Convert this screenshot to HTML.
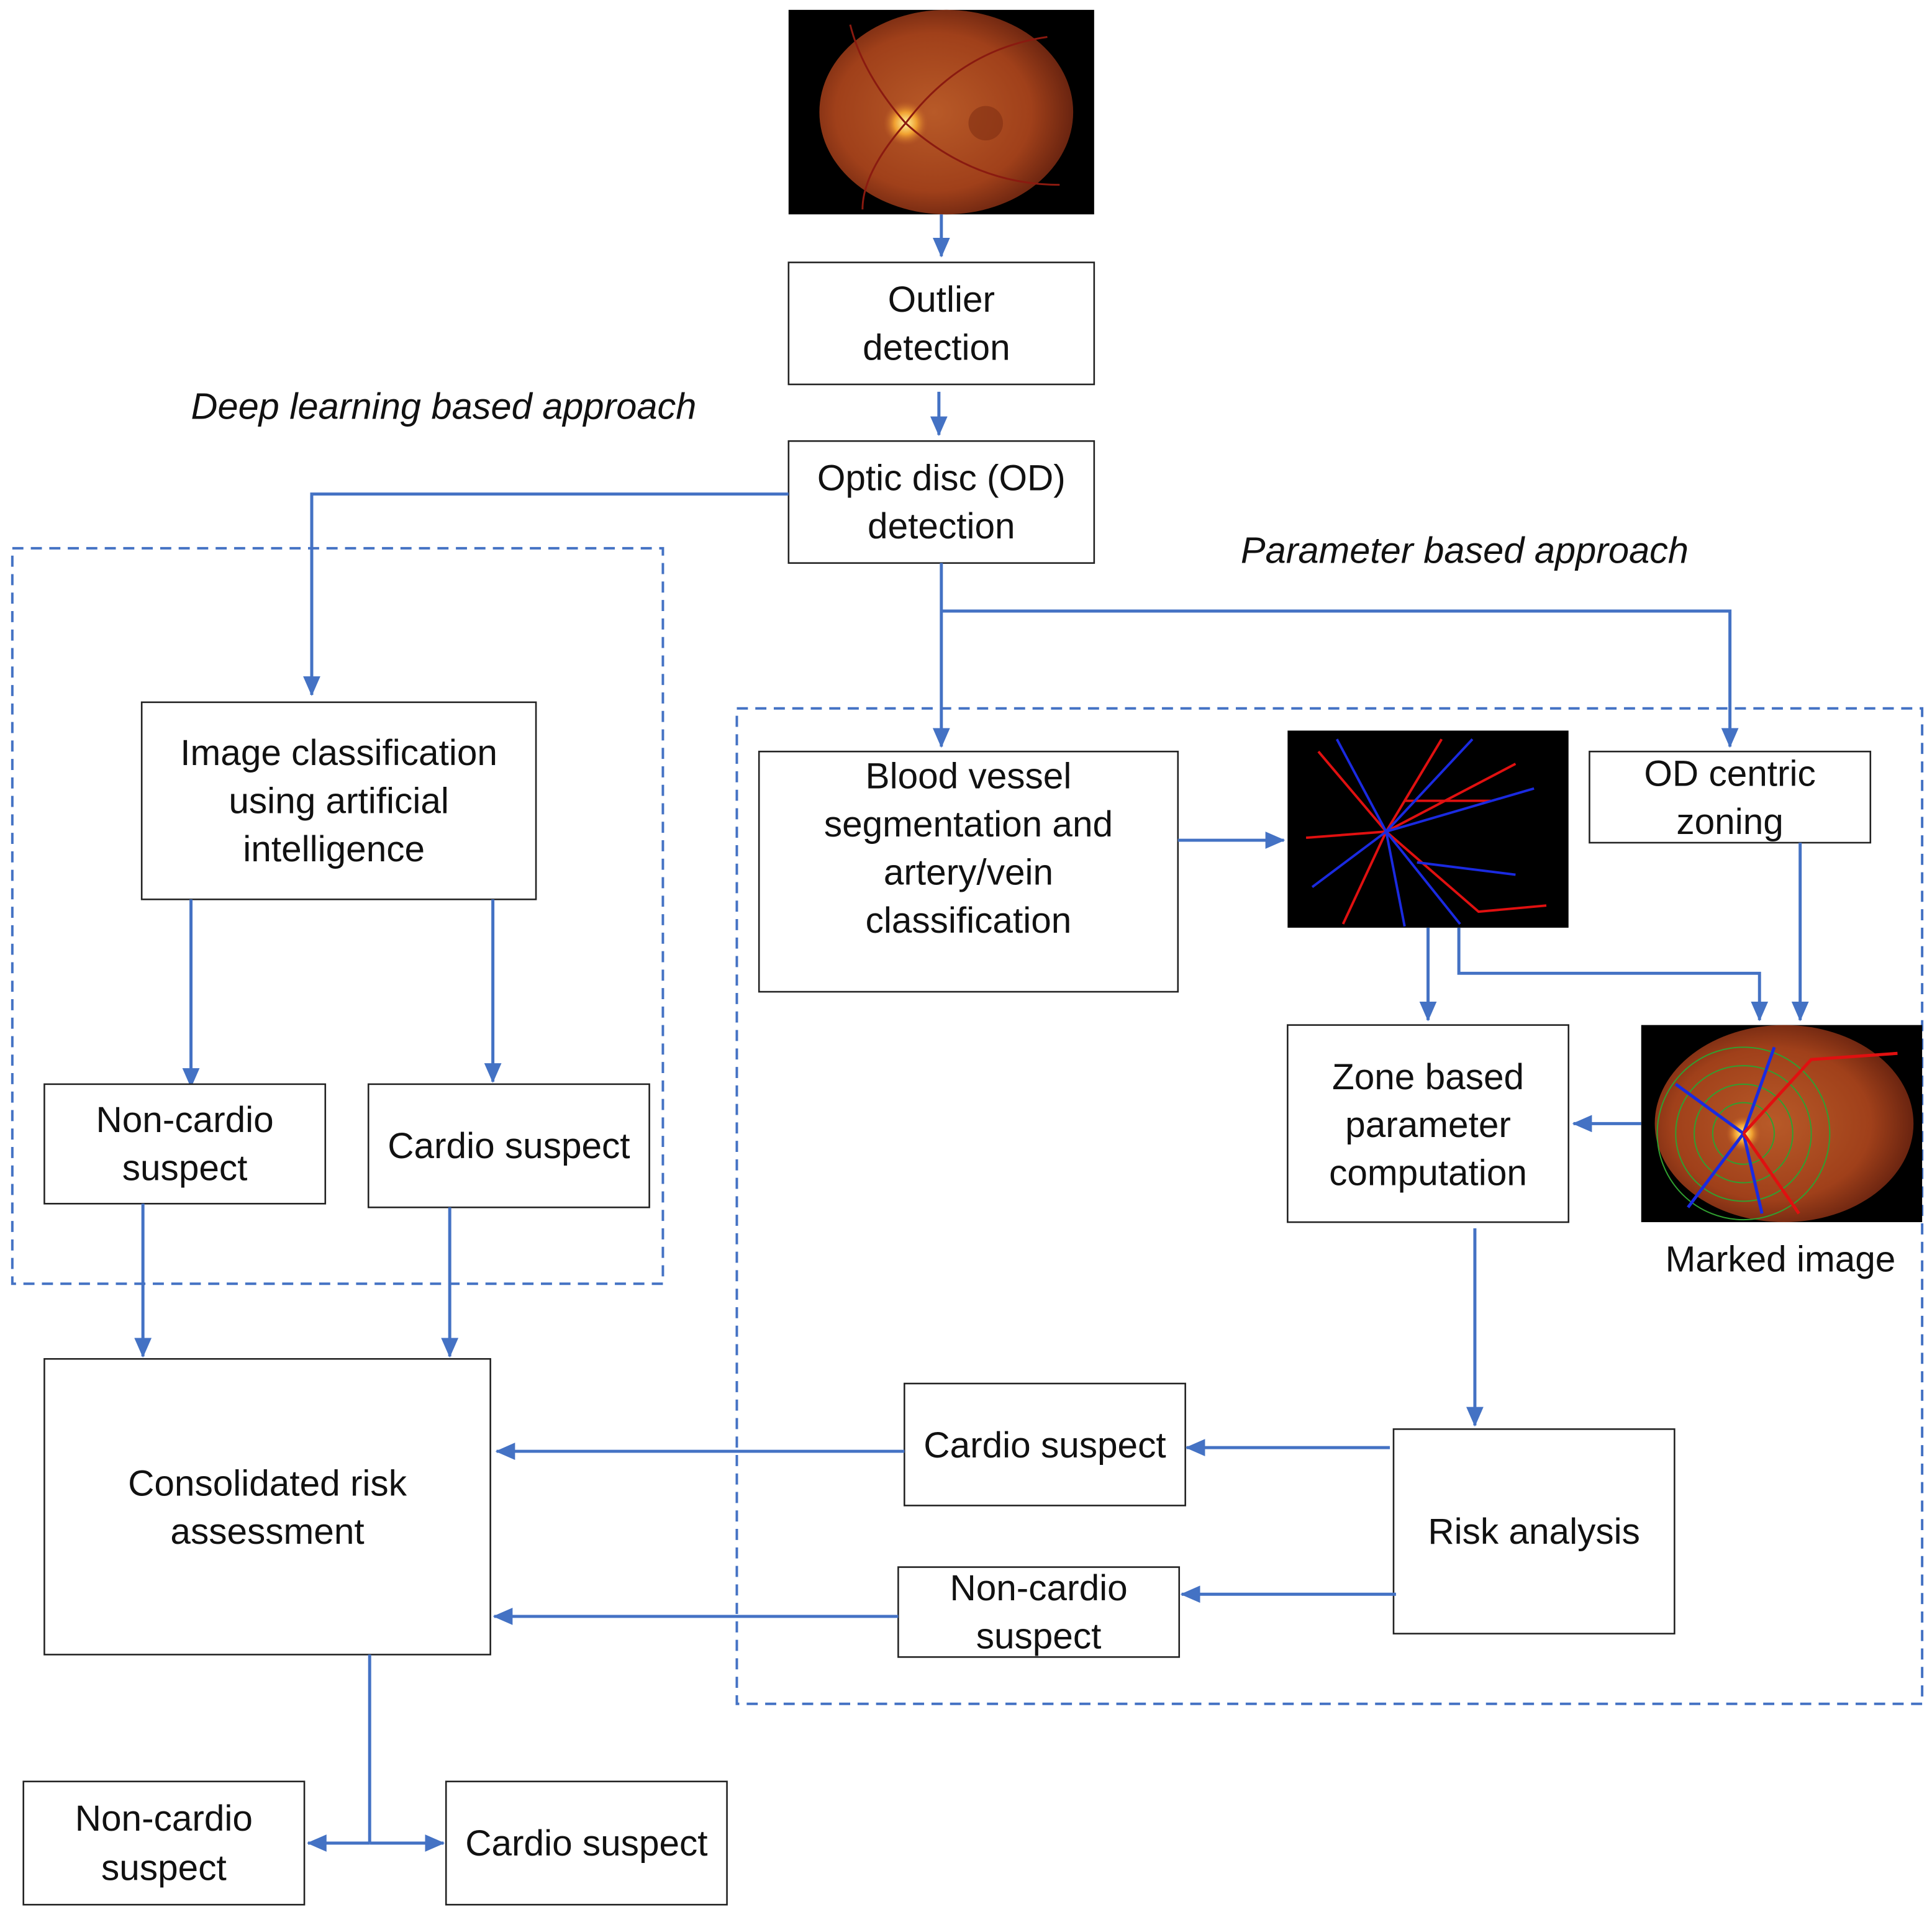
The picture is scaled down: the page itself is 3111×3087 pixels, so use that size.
<!DOCTYPE html>
<html><head><meta charset="utf-8"><style>
html,body{margin:0;padding:0;background:#fff}
svg{display:block}
text{font-family:"Liberation Sans",sans-serif;font-size:29.5px;fill:#111;text-anchor:middle}
.i{font-style:italic;text-anchor:start;font-size:30px}
.b{fill:#fff;stroke:#222;stroke-width:1.3}
.l{stroke:#4472C4;stroke-width:2.5;fill:none}
.d{stroke:#4472C4;stroke-width:2;fill:none;stroke-dasharray:9 6}
</style></head><body>
<svg width="3111" height="3087" viewBox="0 0 1568 1556" preserveAspectRatio="none" xmlns="http://www.w3.org/2000/svg">
<defs>
<marker id="A" markerWidth="16" markerHeight="14" refX="15" refY="7" orient="auto" markerUnits="userSpaceOnUse"><path d="M0,0L16,7L0,14z" fill="#4472C4"/></marker>
<radialGradient id="f" cx="0.45" cy="0.5" r="0.55"><stop offset="0" stop-color="#b85a28"/><stop offset="0.7" stop-color="#a0401a"/><stop offset="1" stop-color="#6a2410"/></radialGradient>
<radialGradient id="od"><stop offset="0" stop-color="#fff6a0"/><stop offset="0.5" stop-color="#f0a030"/><stop offset="1" stop-color="#c0602a" stop-opacity="0"/></radialGradient>
</defs>
<rect x="640" y="8" width="248" height="166" fill="#000"/>
<ellipse cx="768" cy="91" rx="103" ry="83" fill="url(#f)"/>
<circle cx="735" cy="100" r="18" fill="url(#od)"/>
<g stroke="#8a1a10" stroke-width="1.5" fill="none"><path d="M735 100 Q780 40 850 30"/><path d="M735 100 Q790 150 860 150"/><path d="M735 100 Q700 60 690 20"/><path d="M735 100 Q700 140 700 170"/></g>
<circle cx="800" cy="100" r="14" fill="#7a2a10" opacity="0.5"/>
<path class="l" d="M764 174V208" marker-end="url(#A)"/>
<rect class="b" x="640" y="213" width="248" height="99"/>
<text x="764" y="253">Outlier</text><text x="760" y="292">detection</text>
<path class="l" d="M762 318V353" marker-end="url(#A)"/>
<rect class="b" x="640" y="358" width="248" height="99"/>
<text x="764" y="398">Optic disc (OD)</text><text x="764" y="437">detection</text>
<text class="i" x="155" y="340">Deep learning based approach</text>
<path class="l" d="M640 401H253V564" marker-end="url(#A)"/>
<rect class="d" x="10" y="445" width="528" height="597"/>
<rect class="b" x="115" y="570" width="320" height="160"/>
<text x="275" y="621">Image classification</text><text x="275" y="660">using artificial</text><text x="271" y="699">intelligence</text>
<path class="l" d="M155 730V882" marker-end="url(#A)"/>
<path class="l" d="M400 730V878" marker-end="url(#A)"/>
<rect class="b" x="36" y="880" width="228" height="97"/>
<text x="150" y="919">Non-cardio</text><text x="150" y="958">suspect</text>
<rect class="b" x="299" y="880" width="228" height="100"/>
<text x="413" y="940">Cardio suspect</text>
<path class="l" d="M116 977V1101" marker-end="url(#A)"/>
<path class="l" d="M365 980V1101" marker-end="url(#A)"/>
<rect class="b" x="36" y="1103" width="362" height="240"/>
<text x="217" y="1214">Consolidated risk</text><text x="217" y="1253">assessment</text>
<text class="i" x="1007" y="457">Parameter based approach</text>
<path class="l" d="M764 457V606" marker-end="url(#A)"/>
<path class="l" d="M764 496H1404V606" marker-end="url(#A)"/>
<rect class="d" x="598" y="575" width="962" height="808"/>
<rect class="b" x="616" y="610" width="340" height="195"/>
<text x="786" y="640">Blood vessel</text><text x="786" y="679">segmentation and</text><text x="786" y="718">artery/vein</text><text x="786" y="757">classification</text>
<path class="l" d="M956 682H1042" marker-end="url(#A)"/>
<rect x="1045" y="593" width="228" height="160" fill="#000"/>
<g fill="none" stroke-width="2">
<g stroke="#e01010"><path d="M1125 675L1170 600"/><path d="M1125 675L1230 620"/><path d="M1125 675L1070 610"/><path d="M1125 675L1090 750"/><path d="M1125 675L1200 740L1255 735"/><path d="M1125 675L1060 680"/><path d="M1140 650L1210 650"/></g>
<g stroke="#1a2ae0"><path d="M1125 675L1195 600"/><path d="M1125 675L1245 640"/><path d="M1125 675L1085 600"/><path d="M1125 675L1140 752"/><path d="M1125 675L1065 720"/><path d="M1125 675L1185 750"/><path d="M1150 700L1230 710"/></g>
</g>
<rect class="b" x="1290" y="610" width="228" height="74"/>
<text x="1404" y="638">OD centric</text><text x="1404" y="677">zoning</text>
<path class="l" d="M1159 753V828" marker-end="url(#A)"/>
<path class="l" d="M1184 753V790H1428V828" marker-end="url(#A)"/>
<path class="l" d="M1461 684V828" marker-end="url(#A)"/>
<rect x="1332" y="832" width="228" height="160" fill="#000"/>
<ellipse cx="1448" cy="912" rx="105" ry="80" fill="url(#f)"/>
<g fill="none" stroke="#30a030" stroke-width="1"><circle cx="1415" cy="920" r="25"/><circle cx="1415" cy="920" r="40"/><circle cx="1415" cy="920" r="55"/><circle cx="1415" cy="920" r="70"/></g>
<circle cx="1415" cy="920" r="14" fill="url(#od)"/>
<g fill="none" stroke-width="2.5"><g stroke="#1a2ae0"><path d="M1415 920L1440 850"/><path d="M1415 920L1360 880"/><path d="M1415 920L1370 980"/><path d="M1415 920L1430 985"/></g><g stroke="#e01010"><path d="M1415 920L1470 860L1540 855"/><path d="M1415 920L1460 985"/></g></g>
<text x="1445" y="1032">Marked image</text>
<rect class="b" x="1045" y="832" width="228" height="160"/>
<text x="1159" y="884">Zone based</text><text x="1159" y="923">parameter</text><text x="1159" y="962">computation</text>
<path class="l" d="M1332 912H1277" marker-end="url(#A)"/>
<path class="l" d="M1197 997V1157" marker-end="url(#A)"/>
<rect class="b" x="1131" y="1160" width="228" height="166"/>
<text x="1245" y="1253">Risk analysis</text>
<rect class="b" x="734" y="1123" width="228" height="99"/>
<text x="848" y="1183">Cardio suspect</text>
<path class="l" d="M1128 1175H963" marker-end="url(#A)"/>
<rect class="b" x="729" y="1272" width="228" height="73"/>
<text x="843" y="1299">Non-cardio</text><text x="843" y="1338">suspect</text>
<path class="l" d="M1133 1294H959" marker-end="url(#A)"/>
<path class="l" d="M734 1178H403" marker-end="url(#A)"/>
<path class="l" d="M729 1312H401" marker-end="url(#A)"/>
<path class="l" d="M300 1343V1496"/>
<path class="l" d="M300 1496H250" marker-end="url(#A)"/>
<path class="l" d="M300 1496H360" marker-end="url(#A)"/>
<rect class="b" x="19" y="1446" width="228" height="100"/>
<text x="133" y="1486">Non-cardio</text><text x="133" y="1526">suspect</text>
<rect class="b" x="362" y="1446" width="228" height="100"/>
<text x="476" y="1506">Cardio suspect</text>
</svg>
</body></html>
